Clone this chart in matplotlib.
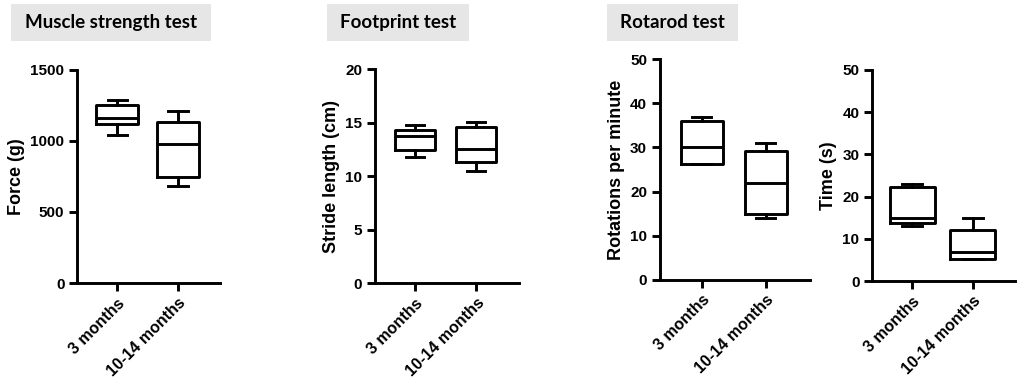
import matplotlib
matplotlib.use("Agg")
import matplotlib.pyplot as plt
from matplotlib.patches import Rectangle

plt.rcParams['font.family'] = ['Liberation Sans', 'DejaVu Sans']
plt.rcParams['font.weight'] = 'bold'

groups = ['3 months', '10-14 months']

# box stats per group: (whislo, q1, med, q3, whishi)
force = [(1045, 1120, 1160, 1255, 1290), (685, 745, 980, 1130, 1210)]
stride = [(11.8, 12.4, 13.7, 14.3, 14.8), (10.5, 11.3, 12.5, 14.6, 15.1)]
rotations = [(26.2, 26.2, 30, 36, 37), (14, 15, 22, 29.3, 31)]
time_s = [(13, 13.7, 15, 22.3, 23), (5.2, 5.2, 7, 12, 15)]

panels = [
    # data, ylabel, ymax, step, axes rect, box width
    (force, 'Force (g)', 1500, 500, [0.0754, 0.263, 0.140, 0.555], 0.70),
    (stride, 'Stride length (cm)', 20, 5, [0.367, 0.263, 0.141, 0.557], 0.65),
    (rotations, 'Rotations per minute', 50, 10, [0.646, 0.271, 0.147, 0.575], 0.66),
    (time_s, 'Time (s)', 50, 10, [0.854, 0.268, 0.140, 0.550], 0.74),
]

titles = [
    ('Muscle strength test', 11, 211),
    ('Footprint test', 327, 469),
    ('Rotarod test', 607, 738),
]

W, H = 1021, 384
fig = plt.figure(figsize=(W / 100, H / 100), dpi=100)

lw = 2.1
for data, ylabel, ymax, step, rect, bw in panels:
    ax = fig.add_axes(rect)
    stats = []
    for (lo, q1, med, q3, hi), name in zip(data, groups):
        stats.append(dict(whislo=lo, q1=q1, med=med, q3=q3, whishi=hi,
                          fliers=[], label=name))
    ax.bxp(stats, positions=[1, 2], widths=bw, capwidths=bw * 0.45,
           showfliers=False,
           boxprops=dict(color='black', linewidth=lw),
           medianprops=dict(color='black', linewidth=lw),
           whiskerprops=dict(color='black', linewidth=lw),
           capprops=dict(color='black', linewidth=lw))
    ax.set_xlim(0.34, 2.69)
    ax.set_ylim(0, ymax)
    ax.set_yticks(range(0, ymax + 1, step))
    ax.set_xticks([1, 2])
    ax.set_xticklabels(groups, rotation=45, ha='right', rotation_mode='anchor',
                       fontsize=11.5, fontweight='bold')
    ax.tick_params(axis='y', labelsize=11, width=lw, length=6, pad=3)
    ax.tick_params(axis='x', width=lw, length=6, pad=3)
    ax.set_ylabel(ylabel, fontsize=13, fontweight='bold', labelpad=4)
    for s in ('top', 'right'):
        ax.spines[s].set_visible(False)
    for s in ('left', 'bottom'):
        ax.spines[s].set_linewidth(lw)
    ax.spines['left'].set_bounds(0, ymax)

for text, x0, x1 in titles:
    fig.patches.append(Rectangle((x0 / W, 1 - 41 / H), (x1 - x0) / W, 37 / H,
                                 transform=fig.transFigure, facecolor='#e6e6e6',
                                 edgecolor='none'))
    fig.text((x0 + x1) / 2 / W, 1 - 22.5 / H, text, ha='center', va='center',
             fontsize=13.5, fontweight='bold', family=['Lato', 'DejaVu Sans'])

fig.savefig('out.png', dpi=100)
